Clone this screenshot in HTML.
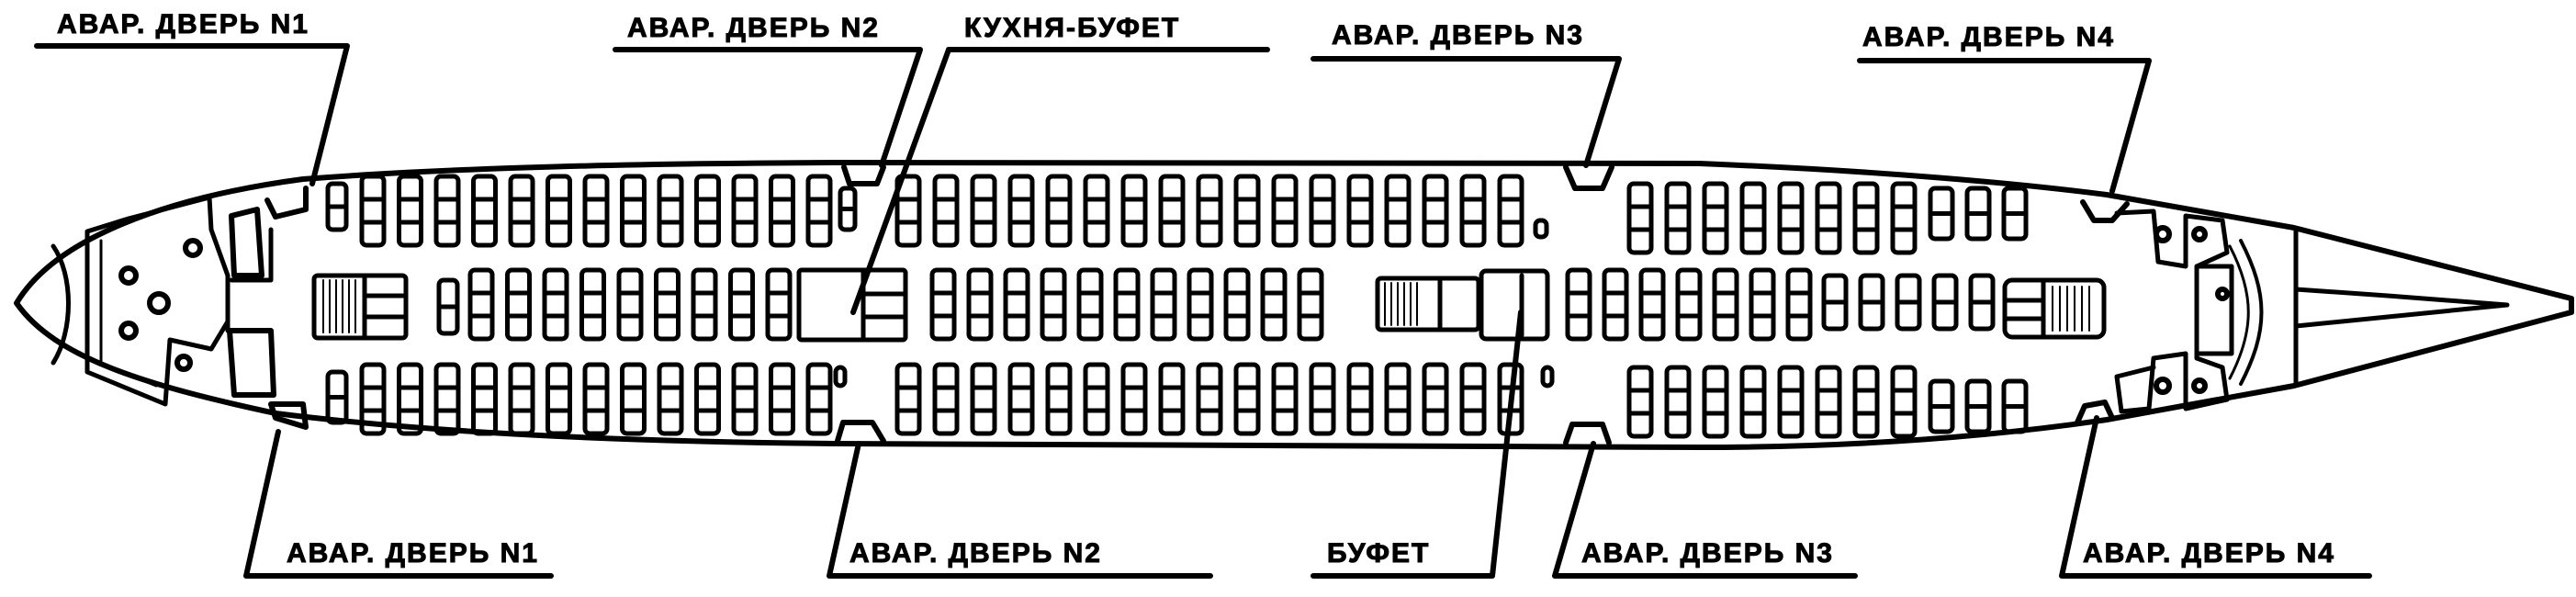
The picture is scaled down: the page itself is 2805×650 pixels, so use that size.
<!DOCTYPE html>
<html><head><meta charset="utf-8"><style>
html,body{margin:0;padding:0;background:#fff;}
svg{display:block}
text{font-family:"Liberation Sans","DejaVu Sans",sans-serif;font-weight:bold;font-size:30px;fill:#000;letter-spacing:2px;stroke:#000;stroke-width:1}
</style></head><body>
<svg id="s" width="2805" height="650" viewBox="0 0 2805 650" xmlns="http://www.w3.org/2000/svg">
<g fill="none" stroke="#000" stroke-width="6" stroke-linejoin="round" stroke-linecap="round">
<path d="M18,330 C60,260 180,215 330,195 C500,182 700,178 909,177 L1850,178 C2050,186 2200,200 2294,212 L2498,248 L2800,325 L2800,340 L2498,420 L2294,457 C2150,478 2000,487 1850,487 L909,483 C600,480 420,465 300,450 C160,420 60,390 18,330 Z"/>
<path d="M58,268 C80,300 80,360 58,395" stroke-width="5"/>
<path d="M2500,250 L2500,418" stroke-width="5"/>
<path d="M2500,315 L2600,322 L2730,332 L2600,345 L2500,355" stroke-width="5"/>
<path d="M2440,262 C2470,320 2470,360 2440,418" stroke-width="4"/>
<path d="M2428,268 C2455,320 2455,360 2428,412" stroke-width="3"/>
<path d="M291,218 L300,236 L333,228 L333,205"/>
<path d="M919,182 L925,200 L955,200 L962,182"/>
<path d="M1705,182 L1715,205 L1745,205 L1755,182"/>
<path d="M2268,220 L2280,240 L2300,240 L2316,222"/>
<path d="M295,440 L300,455 L333,465 L330,440 Z"/>
<path d="M912,480 L918,460 L950,460 L962,480"/>
<path d="M1705,482 L1712,462 L1745,462 L1752,482"/>
<path d="M2262,460 L2270,442 L2292,438 L2300,455"/>
<path d="M95,252 L95,405 L180,440 L185,370 L230,380 L248,350 L248,300 L230,250 L228,215 L140,238 Z" stroke-width="5"/>
<path d="M110,262 L110,395 L170,420" stroke-width="3"/>
<path d="M252,235 L280,228 L285,300 L255,300 Z"/>
<path d="M252,305 L295,305 L295,250" stroke-width="5"/>
<path d="M250,360 L295,360 L298,430 L255,430 Z"/>
<path d="M248,300 L248,360" stroke-width="5"/>
<circle cx="173" cy="330" r="10"/><circle cx="140" cy="300" r="8"/><circle cx="140" cy="360" r="8"/><circle cx="210" cy="270" r="8"/><circle cx="200" cy="395" r="7"/>
<path d="M2305,232 L2345,230 L2350,285 L2380,290 L2380,235 L2420,240 L2425,275 L2392,290 L2392,390 L2420,400 L2425,435 L2380,445 L2380,385 L2345,390 L2340,445 L2310,448 L2305,410 L2345,400" stroke-width="5"/>
<path d="M2392,290 L2430,290 L2430,385 L2392,385" stroke-width="5"/>
<circle cx="2355" cy="255" r="7"/><circle cx="2395" cy="255" r="6"/><circle cx="2355" cy="420" r="7"/><circle cx="2395" cy="420" r="6"/><circle cx="2420" cy="320" r="5"/>
<path d="M40,50 L378,50 L340,200"/>
<path d="M670,54 L1002,54 L960,180"/>
<path d="M1033,54 L1380,54"/><path d="M1033,54 L929,340"/>
<path d="M1430,64 L1763,64 L1727,180"/>
<path d="M2025,66 L2340,66 L2300,208"/>
<path d="M303,470 L268,627 L600,627"/>
<path d="M935,483 L903,627 L1318,627"/>
<path d="M1656,340 L1625,627 L1430,627"/>
<path d="M1735,483 L1693,627 L2020,627"/>
<path d="M2283,455 L2245,627 L2580,627"/>
<g id="seats" stroke-width="5"></g>
</g>
<text x="62" y="36">АВАР. ДВЕРЬ N1</text>
<text x="683" y="40">АВАР. ДВЕРЬ N2</text>
<text x="1050" y="40">КУХНЯ-БУФЕТ</text>
<text x="1450" y="48">АВАР. ДВЕРЬ N3</text>
<text x="2028" y="50">АВАР. ДВЕРЬ N4</text>
<text x="312" y="612">АВАР. ДВЕРЬ N1</text>
<text x="925" y="612">АВАР. ДВЕРЬ N2</text>
<text x="1445" y="612">БУФЕТ</text>
<text x="1722" y="612">АВАР. ДВЕРЬ N3</text>
<text x="2268" y="612">АВАР. ДВЕРЬ N4</text>
</svg>
<script>
var g=document.getElementById('seats'),ns='http://www.w3.org/2000/svg';
function el(t,a){var e=document.createElementNS(ns,t);for(var k in a)e.setAttribute(k,a[k]);g.appendChild(e);return e;}
function col(x,y,w,h,n){el('rect',{x:x,y:y,width:w,height:h,rx:5});for(var i=1;i<n;i++){el('line',{x1:x,y1:y+h*i/n,x2:x+w,y2:y+h*i/n});}}
function run(x0,step,cnt,y,h,n){for(var i=0;i<cnt;i++)col(x0+i*step,y,24,h,n);}
col(357,200,20,50,2); run(394,40.5,13,192,75,3); col(915,205,16,45,2);
col(357,405,20,55,2); run(394,40.5,13,397,75,3); el('rect',{x:910,y:400,width:10,height:20,rx:5});
col(478,305,20,58,2); run(512,40.5,9,294,75,3);
el('rect',{x:342,y:300,width:100,height:68,rx:4}); for(var i=0;i<6;i++)el('line',{x1:352+i*7,y1:305,x2:352+i*7,y2:362,'stroke-width':2});
el('line',{x1:397,y1:300,x2:397,y2:368}); el('line',{x1:397,y1:322,x2:442,y2:322}); el('line',{x1:397,y1:345,x2:442,y2:345});
el('rect',{x:870,y:294,width:116,height:76,rx:3}); el('line',{x1:940,y1:294,x2:940,y2:370});el('line',{x1:940,y1:320,x2:986,y2:320});el('line',{x1:940,y1:345,x2:986,y2:345});
run(977,41,17,192,75,3); el('rect',{x:1672,y:240,width:12,height:18,rx:5});
run(977,41,17,397,75,3); el('rect',{x:1680,y:400,width:10,height:20,rx:5});
run(1015,40,11,294,75,3);
el('rect',{x:1500,y:303,width:110,height:56,rx:4}); for(var i=0;i<6;i++)el('line',{x1:1508+i*7,y1:308,x2:1508+i*7,y2:354,'stroke-width':2});
el('line',{x1:1568,y1:303,x2:1568,y2:359});
el('rect',{x:1613,y:295,width:72,height:74,rx:5}); el('line',{x1:1657,y1:300,x2:1657,y2:365});
run(1774,41,8,200,75,3); run(2102,40,3,205,55,2);
run(1774,41,8,400,75,3); run(2102,40,3,415,55,2);
run(1707,40,7,294,75,3); run(1986,40,5,300,58,2);
el('rect',{x:2183,y:305,width:108,height:62,rx:8}); el('line',{x1:2225,y1:305,x2:2225,y2:367}); el('line',{x1:2183,y1:327,x2:2225,y2:327});el('line',{x1:2183,y1:347,x2:2225,y2:347});
for(var i=0;i<6;i++)el('line',{x1:2235+i*8,y1:312,x2:2235+i*8,y2:360,'stroke-width':2});
</script>
</body></html>
